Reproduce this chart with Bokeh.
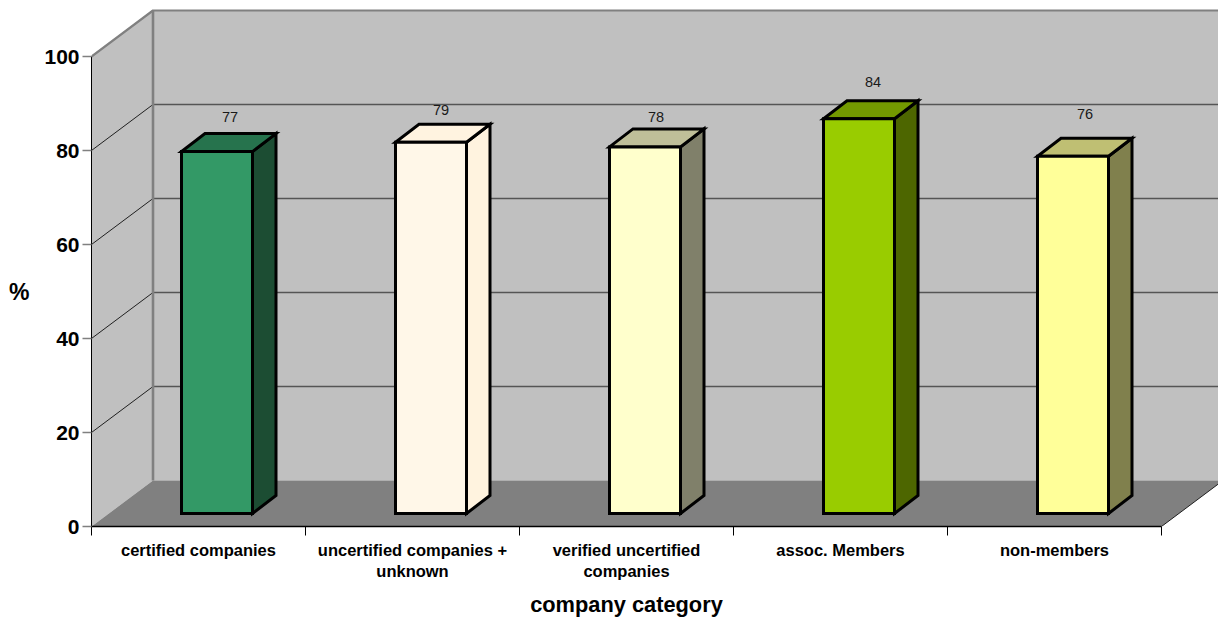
from bokeh.embed import file_html
from bokeh.models import FixedTicker, Label, LinearAxis, Range1d
from bokeh.plotting import figure
from bokeh.resources import INLINE

categories = ["certified companies", "uncertified companies +\nunknown",
              "verified uncertified\ncompanies", "assoc. Members", "non-members"]
values = [77, 79, 78, 84, 76]
front_colors = ["#339966", "#FFF7E8", "#FFFFCC", "#99CC00", "#FFFF99"]
top_colors = ["#26734D", "#FFF3E0", "#BFBF99", "#739900", "#BFBF73"]
side_colors = ["#1C4D33", "#FFF3DF", "#80806A", "#4D6600", "#80804D"]
label_rise = [35, 32, 30, 37, 42]
label_shift = [13, 10, 11, 14, 12]
y_ticks = [0, 20, 40, 60, 80, 100]

# Pixel scale of the plot frame, used to turn 3D depth offsets into data units
PX_X = 214.0
PX_Y = 4.7
FRAME_W = 1127
FRAME_H = 526
WALL_DX = 61.5 / PX_X
WALL_DY = 46.0 / PX_Y
BAR_W = 71.0 / PX_X
BAR_DX = 23.5 / PX_X
BAR_DY = 18.0 / PX_Y
BAR_SHIFT = 18.5 / PX_X
BAR_BASE = 13.0 / PX_Y
N = len(categories)

p = figure(width=1218, height=619, output_backend="svg", toolbar_location=None,
           x_axis_location=None, y_axis_location=None,
           x_range=Range1d(0, FRAME_W / PX_X), y_range=Range1d(0, FRAME_H / PX_Y),
           min_border_left=91, min_border_right=0, min_border_top=0,
           min_border_bottom=93, background_fill_color="white",
           border_fill_color="white", outline_line_color=None)
p.grid.visible = False

# Walls and floor of the 3D box
p.patch([0, WALL_DX, WALL_DX, 0], [0, WALL_DY, 100 + WALL_DY, 100],
        fill_color="#C0C0C0", line_color=None)
p.patch([WALL_DX, N + WALL_DX, N + WALL_DX, WALL_DX],
        [WALL_DY, WALL_DY, 100 + WALL_DY, 100 + WALL_DY],
        fill_color="#C0C0C0", line_color=None)
p.patch([0, N, N + WALL_DX, WALL_DX], [0, 0, WALL_DY, WALL_DY],
        fill_color="#808080", line_color=None)

# Gridlines run along the side wall and across the back wall
for tick in y_ticks[1:-1]:
    p.line([0, WALL_DX], [tick, tick + WALL_DY], line_color="#202020", line_width=1)
    p.line([WALL_DX, N + WALL_DX], [tick + WALL_DY, tick + WALL_DY],
           line_color="#555555", line_width=1.3)
p.line([0, WALL_DX, N + WALL_DX], [100, 100 + WALL_DY, 100 + WALL_DY],
       line_color="#808080", line_width=2.2)
p.line([WALL_DX, WALL_DX], [WALL_DY, 100 + WALL_DY], line_color="#808080", line_width=2.6)
p.line([N, N + WALL_DX], [0, WALL_DY], line_color="#202020", line_width=1)

# Columns: side face, top face, front face
for i, v in enumerate(values):
    x0 = i + 0.5 + BAR_SHIFT - BAR_W / 2
    x1 = x0 + BAR_W
    y0 = BAR_BASE
    y1 = BAR_BASE + v
    outline = dict(line_color="black", line_width=3, line_join="miter")
    p.patch([x1, x1 + BAR_DX, x1 + BAR_DX, x1], [y0, y0 + BAR_DY, y1 + BAR_DY, y1],
            fill_color=side_colors[i], **outline)
    p.patch([x0, x1, x1 + BAR_DX, x0 + BAR_DX], [y1, y1, y1 + BAR_DY, y1 + BAR_DY],
            fill_color=top_colors[i], **outline)
    p.patch([x0, x1, x1, x0], [y0, y0, y1, y1], fill_color=front_colors[i], **outline)
    p.add_layout(Label(x=x0 + BAR_W / 2, y=y1, text=str(v), x_offset=label_shift[i],
                       y_offset=label_rise[i], text_align="center", text_baseline="middle",
                       text_font="Liberation Sans", text_font_size="14.5px",
                       text_color="#1a1a1a"))

title_font = dict(major_label_text_font="Liberation Sans", major_label_text_font_style="bold",
                  major_label_text_color="black")
bare_axis = dict(major_tick_line_color=None, minor_tick_line_color=None, axis_line_color=None)

# Value axis
y_axis = LinearAxis(ticker=FixedTicker(ticks=y_ticks), bounds=(0, 100),
                    major_tick_in=0, major_tick_out=9, minor_tick_line_color=None,
                    major_tick_line_color="#808080", major_tick_line_width=1.5,
                    axis_line_color="black", axis_line_width=1, major_label_standoff=3,
                    major_label_text_font_size="21px", **title_font)
p.add_layout(y_axis, "left")

# Upright % title, centred on the 0-100 span of the value axis
y_title = LinearAxis(ticker=FixedTicker(ticks=[50]), major_label_overrides={50: "%"},
                     major_tick_in=0, major_tick_out=0, major_label_standoff=12,
                     major_label_text_font_size="23px", **bare_axis, **title_font)
p.add_layout(y_title, "left")

# Category axis: minor ticks mark the boundaries, the names sit on centred major ticks
centres = [i + 0.5 for i in range(N)]
x_axis = LinearAxis(ticker=FixedTicker(ticks=centres, minor_ticks=list(range(N + 1))),
                    bounds=(0, N), major_tick_in=0, major_tick_out=0,
                    minor_tick_in=0, minor_tick_out=9, minor_tick_line_color="black",
                    minor_tick_line_width=1, axis_line_color="black", axis_line_width=1.5,
                    major_label_overrides=dict(zip(centres, categories)),
                    major_label_standoff=5, major_label_text_font_size="16.5px", **title_font)
p.add_layout(x_axis, "below")

# Category title, centred on the five categories rather than the whole frame
x_title = LinearAxis(ticker=FixedTicker(ticks=[N / 2]),
                     major_label_overrides={N / 2: "company category"},
                     major_tick_in=0, major_tick_out=0, major_label_standoff=8,
                     major_label_text_font_size="21.8px", **bare_axis, **title_font)
p.add_layout(x_title, "below")

open("out.html", "w").write(file_html(p, INLINE))
